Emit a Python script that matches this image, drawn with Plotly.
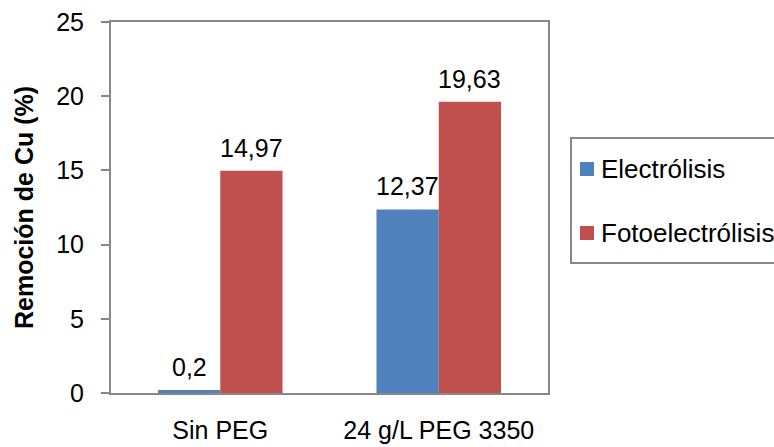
import plotly.graph_objects as go

categories = ["Sin PEG", "24 g/L PEG 3350"]
electrolisis = [0.2, 12.37]
fotoelectrolisis = [14.97, 19.63]
series_names = ["Electrólisis", "Fotoelectrólisis"]
series_colors = ["#4F81BD", "#C0504D"]
y_ticks = [0, 5, 10, 15, 20, 25]

FONT = "Liberation Sans, Arial, sans-serif"
FS = 25
AXIS_COLOR = "#878787"

W, H = 774, 447
M_L, M_R, M_T, M_B = 111, 226, 22, 54
PW, PH = W - M_L - M_R, H - M_T - M_B


def px_x(x):
    """pixel x -> paper x"""
    return (x - M_L) / PW


def px_y(y):
    """pixel y (from top) -> paper y"""
    return (H - M_B - y) / PH


fig = go.Figure()
for name, vals, color in zip(series_names, [electrolisis, fotoelectrolisis], series_colors):
    fig.add_trace(go.Bar(
        x=categories, y=vals, name=name,
        marker=dict(color=color, line=dict(width=0)),
        showlegend=False,
    ))

# value labels above each bar (decimal comma)
bar_offsets = [-31, 31]
for vals, dx in zip([electrolisis, fotoelectrolisis], bar_offsets):
    for cat, v in zip(categories, vals):
        fig.add_annotation(
            x=cat, y=v, xref="x", yref="y",
            text=f"{v:g}".replace(".", ","),
            showarrow=False, xshift=dx, yanchor="bottom", yshift=7,
            font=dict(family=FONT, size=FS, color="#000000"),
        )

# boxed legend at the right
fig.add_shape(type="rect", xref="paper", yref="paper",
              x0=px_x(571), x1=px_x(800), y0=px_y(263), y1=px_y(138),
              line=dict(color=AXIS_COLOR, width=2), fillcolor="white", layer="above")
for i, (name, color) in enumerate(zip(series_names, series_colors)):
    cy = 169 + 64 * i
    fig.add_shape(type="rect", xref="paper", yref="paper",
                  x0=px_x(580), x1=px_x(594), y0=px_y(cy + 7), y1=px_y(cy - 7),
                  line=dict(width=0), fillcolor=color, layer="above")
    fig.add_annotation(x=px_x(599), y=px_y(cy), xref="paper", yref="paper",
                       text=name, showarrow=False, xanchor="left", yanchor="middle",
                       font=dict(family=FONT, size=26, color="#000000"))

fig.update_layout(
    width=W, height=H,
    margin=dict(l=M_L, r=M_R, t=M_T, b=M_B, autoexpand=False),
    paper_bgcolor="white", plot_bgcolor="white",
    barmode="group", bargap=0.43, bargroupgap=0,
    font=dict(family=FONT, size=FS, color="#000000"),
    showlegend=False,
)
fig.update_xaxes(
    showline=True, linecolor=AXIS_COLOR, linewidth=2, mirror=True,
    ticks="", showgrid=False, tickfont=dict(size=FS), ticklabelstandoff=14,
)
fig.update_yaxes(
    range=[0, 25], tickvals=y_ticks, showline=True, linecolor=AXIS_COLOR,
    linewidth=2, mirror=True, ticks="outside", ticklen=8, tickcolor=AXIS_COLOR,
    tickwidth=2, showgrid=False, zeroline=False, tickfont=dict(size=FS),
    ticklabelstandoff=12,
    title=dict(text="<b>Remoción de Cu (%)</b>", font=dict(size=FS), standoff=15),
)

fig.write_html("out.html")
